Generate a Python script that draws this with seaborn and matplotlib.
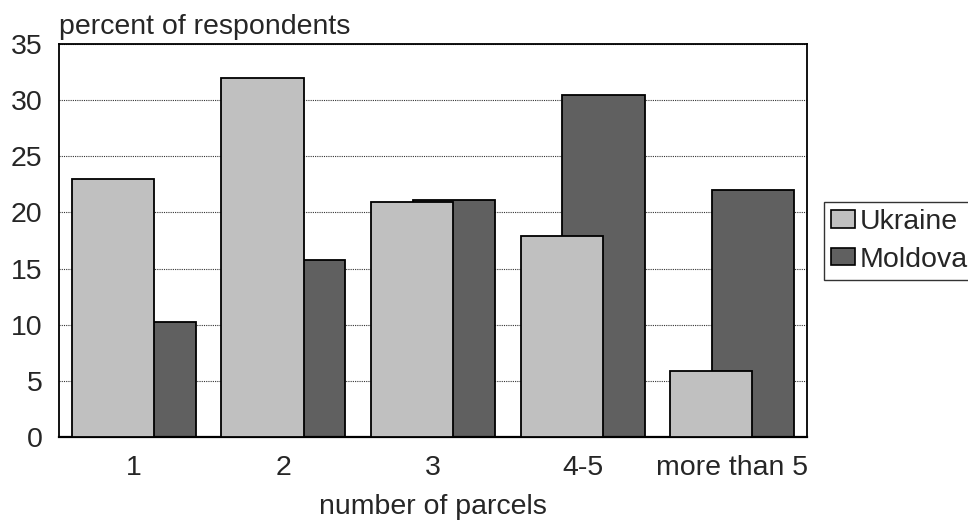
import matplotlib
matplotlib.use("Agg")
import matplotlib.pyplot as plt
import seaborn as sns
from matplotlib.patches import Patch

categories = ["1", "2", "3", "4-5", "more than 5"]
ukraine = [23.0, 32.0, 20.9, 17.9, 5.9]
moldova = [10.2, 15.8, 21.1, 30.5, 22.0]
series_names = ["Ukraine", "Moldova"]
yticks = [0, 5, 10, 15, 20, 25, 30, 35]

sns.set_style("white")
plt.rcParams["font.family"] = ["Liberation Sans", "DejaVu Sans"]
FS = 20.5

fig = plt.figure(figsize=(9.68, 5.21), dpi=100)
ax = fig.add_axes([59 / 968, 84 / 521, (807 - 59) / 968, (437 - 44) / 521])

c_ukr = "#c0c0c0"
c_mol = "#606060"
bw = 0.55
off = 0.14

sns.barplot(x=categories, y=moldova, order=categories, color=c_mol, width=bw,
            edgecolor="black", linewidth=1.3, saturation=1, ax=ax)
n0 = len(ax.patches)
for p in ax.patches[:n0]:
    p.set_x(p.get_x() + off)
sns.barplot(x=categories, y=ukraine, order=categories, color=c_ukr, width=bw,
            edgecolor="black", linewidth=1.3, saturation=1, ax=ax)
for p in ax.patches[n0:]:
    p.set_x(p.get_x() - off)
    p.set_zorder(3)

ax.set_xlim(-0.5, len(categories) - 0.5)
ax.set_ylim(0, 35)
ax.set_yticks(yticks)
ax.set_yticklabels([str(t) for t in yticks], fontsize=FS)
ax.tick_params(axis="y", length=0, pad=12)
ax.tick_params(axis="x", length=0, pad=13, labelsize=FS)
ax.set_axisbelow(True)
ax.yaxis.grid(True, linestyle=(0, (1, 1)), color="#333333", linewidth=0.8)
for s in ax.spines.values():
    s.set_visible(True)
    s.set_color("black")
    s.set_linewidth(1.3)
ax.spines["bottom"].set_linewidth(1.6)

ax.set_xlabel("number of parcels", fontsize=FS, labelpad=9)
ax.set_ylabel("")
ax.annotate("percent of respondents", xy=(0, 1), xycoords="axes fraction",
            xytext=(0, 7), textcoords="offset points", ha="left",
            va="baseline", fontsize=FS)

handles = [Patch(facecolor=c_ukr, edgecolor="black", linewidth=1.2),
           Patch(facecolor=c_mol, edgecolor="black", linewidth=1.2)]
leg = fig.legend(handles, series_names, loc="upper left",
                 bbox_to_anchor=(824 / 968, (521 - 202) / 521),
                 fontsize=FS, frameon=True, fancybox=False, shadow=False,
                 borderpad=0.25, borderaxespad=0, handlelength=0.85,
                 handleheight=0.55, handletextpad=0.15, labelspacing=0.4)
leg.get_frame().set_edgecolor("black")
leg.get_frame().set_linewidth(1.0)

fig.savefig("out.png", dpi=100)
